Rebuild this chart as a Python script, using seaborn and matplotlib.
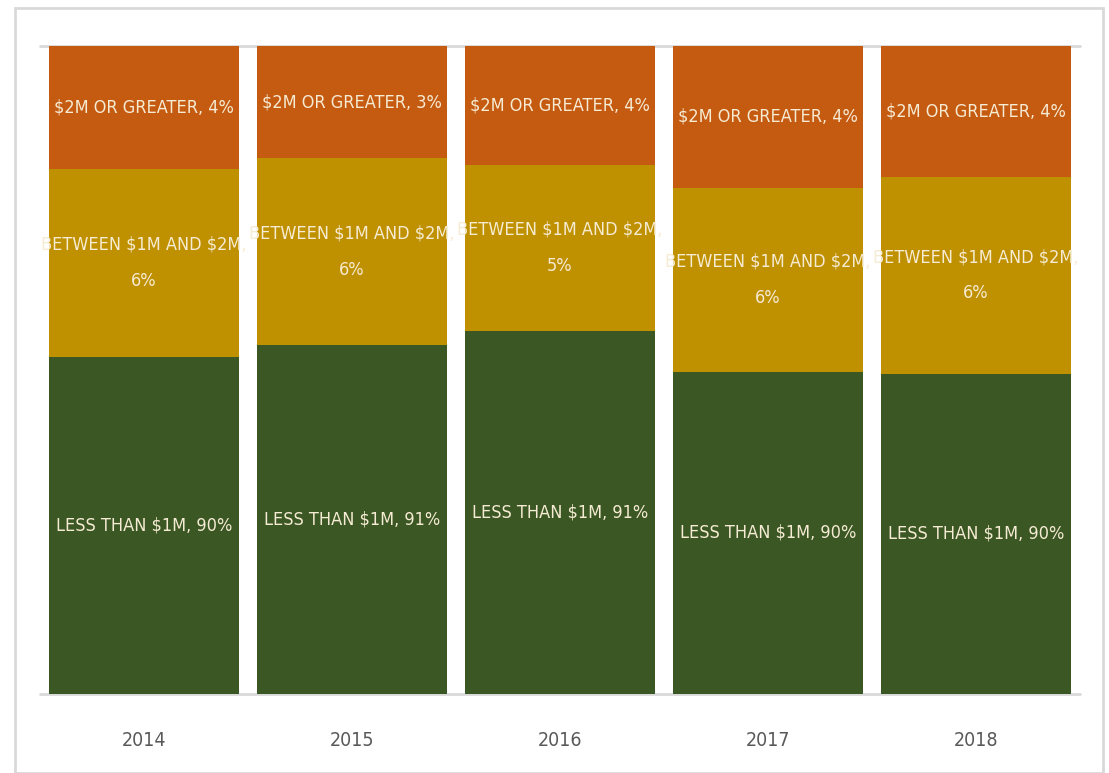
import matplotlib
matplotlib.use("Agg")
import matplotlib.pyplot as plt
import seaborn as sns
import pandas as pd
from matplotlib.patches import Rectangle

years = ["2014", "2015", "2016", "2017", "2018"]
less_1m = [90.40, 90.77, 91.21, 89.94, 89.88]
between_1m_2m = [5.80, 5.77, 5.12, 5.68, 6.08]
over_2m = [3.80, 3.46, 3.67, 4.38, 4.04]

lbl_less = ["LESS THAN $1M, 90%", "LESS THAN $1M, 91%", "LESS THAN $1M, 91%",
            "LESS THAN $1M, 90%", "LESS THAN $1M, 90%"]
lbl_between = ["BETWEEN $1M AND $2M,\n6%", "BETWEEN $1M AND $2M,\n6%", "BETWEEN $1M AND $2M,\n5%",
               "BETWEEN $1M AND $2M,\n6%", "BETWEEN $1M AND $2M,\n6%"]
lbl_over = ["$2M OR GREATER, 4%", "$2M OR GREATER, 3%", "$2M OR GREATER, 4%",
            "$2M OR GREATER, 4%", "$2M OR GREATER, 4%"]

c_green = "#3A5724"
c_gold = "#BF9000"
c_orange = "#C55A11"
txt_col = "#F6EBD3"

sns.set_style("white")
plt.rcParams["font.family"] = ["DejaVu Sans"]
plt.rcParams["font.stretch"] = "condensed"

df = pd.DataFrame({"year": years, "less": less_1m, "between": between_1m_2m, "over": over_2m})
df["cum_between"] = df["less"] + df["between"]
df["cum_over"] = df["cum_between"] + df["over"]

fig = plt.figure(figsize=(11.09, 7.73), dpi=100)
ax = fig.add_axes([40 / 1109, (773 - 694) / 773, 1040 / 1109, 648 / 773])

for col, c in [("cum_over", c_orange), ("cum_between", c_gold), ("less", c_green)]:
    sns.barplot(data=df, x="year", y=col, color=c, width=0.913, ax=ax,
                saturation=1, linewidth=0, zorder=2)

ymin, ymax = 80, 100
ax.set_ylim(ymin, ymax)
ax.set_xlim(-0.5, 4.5)

kw = dict(ha="center", va="center", color=txt_col, fontsize=13, zorder=3, parse_math=False)
for i in range(len(years)):
    g = df["less"][i]
    b = df["cum_between"][i]
    ax.text(i, (ymin + g) / 2, lbl_less[i], **kw)
    ax.text(i, (g + b) / 2, lbl_between[i], linespacing=2.3, **kw)
    ax.text(i, (b + ymax) / 2, lbl_over[i], **kw)

ax.axhline(ymin, color="#D9D9D9", lw=2, zorder=1, clip_on=False)
ax.axhline(ymax, color="#D9D9D9", lw=2, zorder=1, clip_on=False)

for s in ax.spines.values():
    s.set_visible(False)
ax.set_yticks([])
ax.set_xlabel("")
ax.set_ylabel("")
ax.tick_params(axis="x", length=0, pad=27, labelsize=14, labelcolor="#595959")

fig.patches.append(Rectangle((15 / 1109, 0), 1088 / 1109, (773 - 8) / 773, transform=fig.transFigure,
                             fill=False, edgecolor="#D9D9D9", lw=2))

fig.savefig("out.png", dpi=100)
